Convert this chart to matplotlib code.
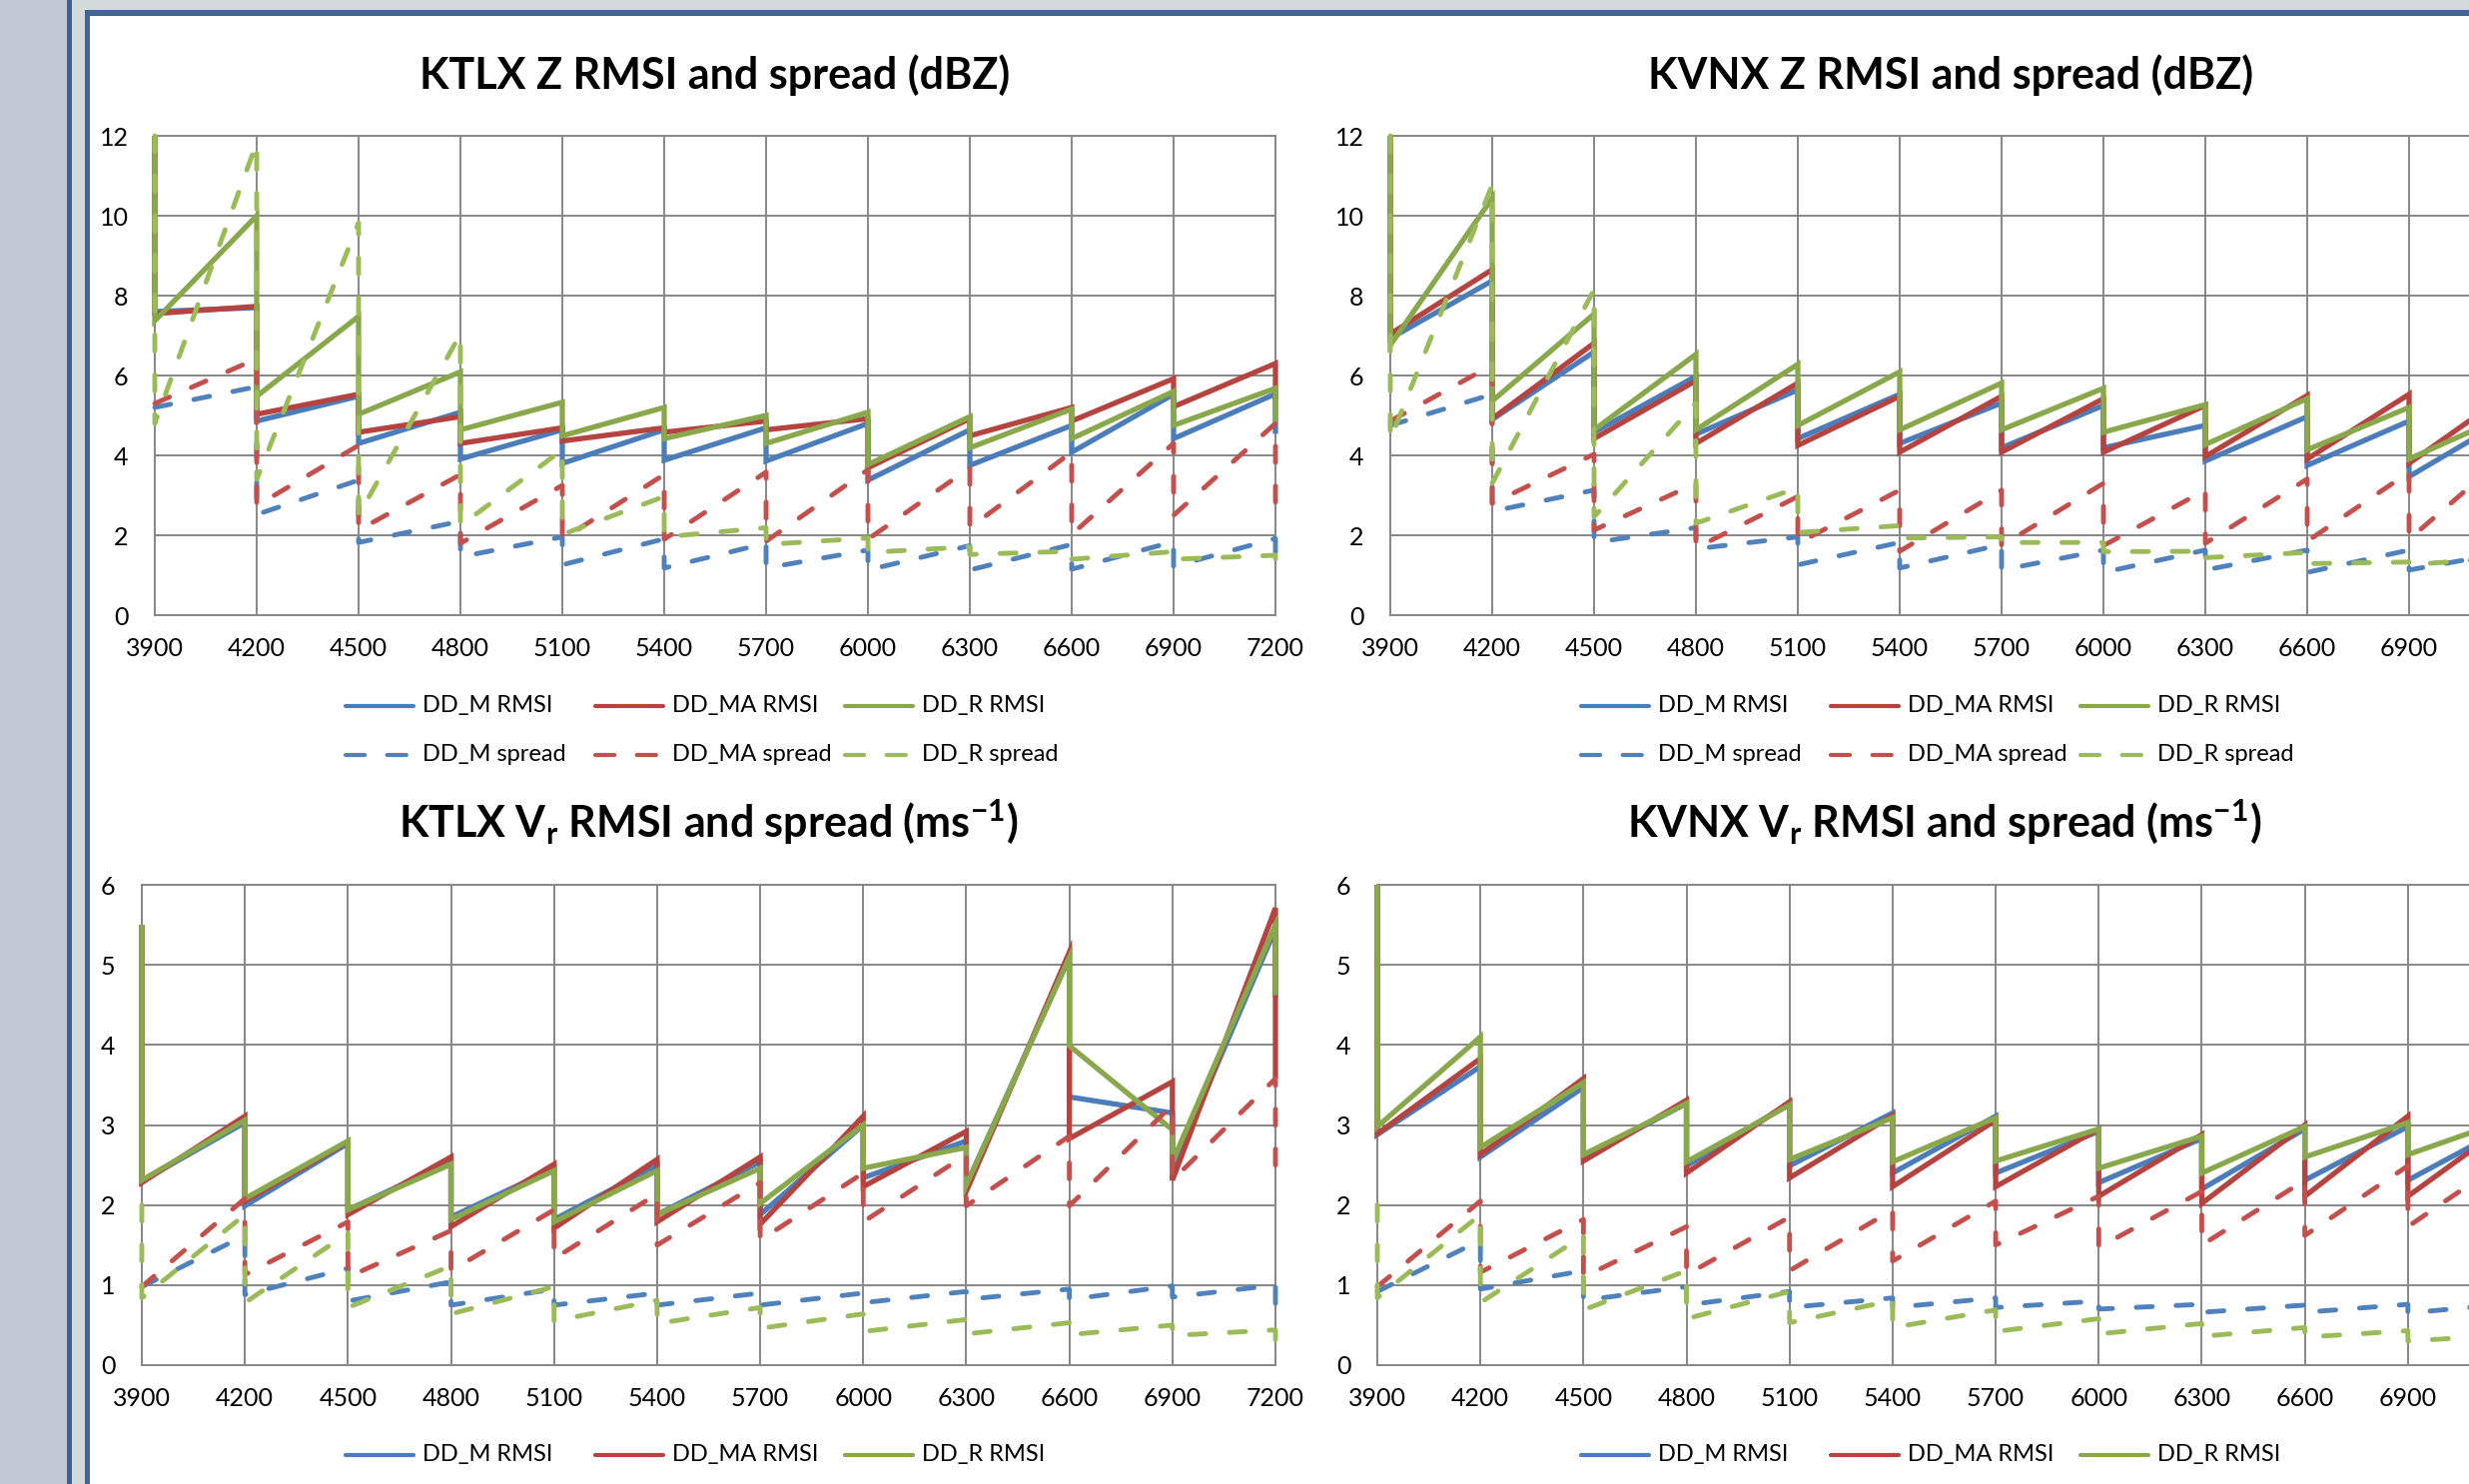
import matplotlib
matplotlib.use("Agg")
import matplotlib.pyplot as plt
import numpy as np
from matplotlib.lines import Line2D
from matplotlib.patches import Rectangle

plt.rcParams["font.family"] = ["Lato", "DejaVu Sans"]
plt.rcParams["mathtext.fontset"] = "custom"
plt.rcParams["mathtext.rm"] = "Lato:bold"
plt.rcParams["mathtext.it"] = "Lato:bold:italic"
plt.rcParams["mathtext.bf"] = "Lato:bold"

# ── Data: forecast (f) and analysis (a) value at each cycle ───────────────────
cycles = [3900, 4200, 4500, 4800, 5100, 5400, 5700, 6000, 6300, 6600, 6900, 7200]

# KTLX Z (dBZ)
tl_m_rmsi_f = [12.0, 7.70, 5.48, 5.08, 4.64, 4.64, 4.69, 4.80, 4.64, 4.75, 5.53, 5.54]
tl_m_rmsi_a = [7.60, 4.86, 4.30, 3.91, 3.80, 3.88, 3.86, 3.38, 3.75, 4.08, 4.42, 4.54]
tl_ma_rmsi_f = [12.0, 7.73, 5.53, 4.97, 4.69, 4.69, 4.86, 4.92, 4.92, 5.20, 5.92, 6.30]
tl_ma_rmsi_a = [7.55, 5.03, 4.58, 4.30, 4.36, 4.58, 4.64, 3.69, 4.49, 4.86, 5.22, 5.40]
tl_r_rmsi_f = [12.0, 10.0, 7.48, 6.09, 5.33, 5.20, 5.00, 5.08, 4.97, 5.16, 5.60, 5.68]
tl_r_rmsi_a = [7.37, 5.48, 5.03, 4.64, 4.49, 4.42, 4.30, 3.77, 4.19, 4.42, 4.75, 4.84]
tl_m_spread_f = [5.20, 5.72, 3.38, 2.35, 1.96, 1.91, 1.80, 1.63, 1.74, 1.77, 1.84, 1.92]
tl_m_spread_a = [5.20, 2.52, 1.82, 1.46, 1.26, 1.18, 1.18, 1.13, 1.13, 1.15, 1.22, 1.30]
tl_ma_spread_f = [5.30, 6.42, 4.25, 3.52, 3.25, 3.52, 3.58, 3.64, 3.69, 4.08, 4.30, 4.80]
tl_ma_spread_a = [5.30, 2.74, 2.13, 1.80, 1.90, 1.90, 1.85, 1.90, 2.19, 2.02, 2.50, 2.50]
tl_r_spread_f = [12.0, 11.83, 9.82, 7.04, 4.14, 2.97, 2.19, 1.93, 1.71, 1.60, 1.59, 1.50]
tl_r_spread_a = [4.80, 3.40, 2.50, 2.24, 2.02, 1.96, 1.77, 1.57, 1.52, 1.40, 1.40, 1.29]

# KVNX Z (dBZ)
tr_m_rmsi_f = [12.0, 8.37, 6.59, 5.98, 5.64, 5.53, 5.31, 5.25, 4.75, 4.97, 4.86, 4.97]
tr_m_rmsi_a = [6.93, 4.90, 4.58, 4.53, 4.42, 4.30, 4.19, 4.19, 3.86, 3.75, 3.47, 3.50]
tr_ma_rmsi_f = [12.0, 8.65, 6.81, 5.87, 5.81, 5.48, 5.48, 5.42, 5.25, 5.50, 5.53, 5.60]
tr_ma_rmsi_a = [7.04, 4.92, 4.42, 4.30, 4.25, 4.08, 4.08, 4.08, 3.97, 3.91, 3.80, 3.90]
tr_r_rmsi_f = [12.0, 10.44, 7.54, 6.53, 6.28, 6.09, 5.81, 5.68, 5.27, 5.42, 5.20, 5.05]
tr_r_rmsi_a = [6.76, 5.36, 4.64, 4.64, 4.75, 4.64, 4.64, 4.58, 4.27, 4.14, 3.91, 4.00]
tr_m_spread_f = [4.75, 5.53, 3.13, 2.19, 1.96, 1.82, 1.77, 1.63, 1.63, 1.63, 1.63, 1.59]
tr_m_spread_a = [4.75, 2.60, 1.82, 1.66, 1.26, 1.18, 1.13, 1.07, 1.13, 1.07, 1.13, 1.10]
tr_ma_spread_f = [4.86, 6.26, 4.03, 3.30, 2.97, 3.13, 3.13, 3.30, 3.13, 3.41, 3.58, 4.10]
tr_ma_spread_a = [4.86, 2.80, 2.13, 1.68, 1.80, 1.60, 1.74, 1.74, 1.80, 1.85, 1.90, 1.90]
tr_r_spread_f = [12.0, 10.77, 8.15, 5.31, 3.19, 2.24, 1.96, 1.82, 1.60, 1.57, 1.33, 1.45]
tr_r_spread_a = [4.40, 3.30, 2.46, 2.30, 2.07, 1.93, 1.82, 1.59, 1.44, 1.29, 1.26, 1.30]

# KTLX Vr (m/s)
bl_m_rmsi_f = [5.50, 3.03, 2.77, 2.54, 2.46, 2.49, 2.54, 3.00, 2.80, 5.09, 3.15, 5.45]
bl_m_rmsi_a = [2.30, 1.99, 1.94, 1.85, 1.82, 1.88, 1.88, 2.34, 2.25, 3.35, 2.45, 4.60]
bl_ma_rmsi_f = [5.50, 3.11, 2.79, 2.60, 2.51, 2.57, 2.60, 3.11, 2.92, 5.16, 3.54, 5.71]
bl_ma_rmsi_a = [2.28, 2.05, 1.88, 1.73, 1.71, 1.79, 1.76, 2.23, 2.17, 2.83, 2.31, 3.58]
bl_r_rmsi_f = [5.50, 3.06, 2.80, 2.51, 2.43, 2.43, 2.46, 3.00, 2.72, 5.09, 2.94, 5.50]
bl_r_rmsi_a = [2.31, 2.08, 1.94, 1.82, 1.79, 1.88, 2.02, 2.46, 2.25, 3.99, 2.54, 4.62]
bl_m_spread_f = [0.98, 1.62, 1.21, 1.04, 0.95, 0.90, 0.90, 0.90, 0.92, 0.95, 0.99, 1.00]
bl_m_spread_a = [0.98, 0.88, 0.80, 0.75, 0.75, 0.75, 0.75, 0.78, 0.82, 0.82, 0.85, 0.77]
bl_ma_spread_f = [0.98, 2.08, 1.79, 1.68, 1.94, 2.14, 2.28, 2.40, 2.63, 2.86, 3.25, 3.58]
bl_ma_spread_a = [0.98, 1.13, 1.10, 1.18, 1.33, 1.50, 1.56, 1.79, 1.99, 1.99, 2.31, 2.33]
bl_r_spread_f = [2.00, 1.88, 1.65, 1.24, 0.98, 0.81, 0.72, 0.64, 0.57, 0.53, 0.50, 0.44]
bl_r_spread_a = [0.84, 0.78, 0.72, 0.64, 0.55, 0.52, 0.46, 0.42, 0.39, 0.38, 0.37, 0.31]

# KVNX Vr (m/s)
br_m_rmsi_f = [6.00, 3.73, 3.47, 3.27, 3.27, 3.15, 3.11, 2.92, 2.83, 2.95, 2.98, 3.00]
br_m_rmsi_a = [2.88, 2.60, 2.59, 2.49, 2.49, 2.40, 2.40, 2.28, 2.20, 2.31, 2.31, 2.30]
br_ma_rmsi_f = [6.00, 3.83, 3.58, 3.31, 3.29, 3.12, 3.06, 2.95, 2.88, 3.00, 3.11, 3.04]
br_ma_rmsi_a = [2.89, 2.63, 2.55, 2.40, 2.34, 2.23, 2.23, 2.11, 2.02, 2.11, 2.11, 2.10]
br_r_rmsi_f = [6.00, 4.10, 3.53, 3.27, 3.25, 3.09, 3.09, 2.95, 2.86, 2.98, 3.03, 3.08]
br_r_rmsi_a = [2.98, 2.72, 2.63, 2.54, 2.57, 2.54, 2.55, 2.46, 2.40, 2.60, 2.63, 2.60]
br_m_spread_f = [0.92, 1.56, 1.18, 0.98, 0.92, 0.84, 0.84, 0.80, 0.76, 0.75, 0.76, 0.77]
br_m_spread_a = [0.92, 0.95, 0.81, 0.75, 0.72, 0.72, 0.72, 0.70, 0.66, 0.66, 0.65, 0.65]
br_ma_spread_f = [0.98, 2.05, 1.82, 1.73, 1.85, 1.94, 2.05, 2.11, 2.17, 2.31, 2.49, 2.61]
br_ma_spread_a = [0.98, 1.16, 1.10, 1.13, 1.18, 1.30, 1.50, 1.47, 1.50, 1.62, 1.73, 1.75]
br_r_spread_f = [2.00, 1.88, 1.62, 1.18, 0.92, 0.81, 0.69, 0.58, 0.52, 0.47, 0.43, 0.38]
br_r_spread_a = [0.84, 0.78, 0.69, 0.58, 0.53, 0.47, 0.42, 0.39, 0.36, 0.35, 0.30, 0.30]

labels = ["DD_M RMSI", "DD_MA RMSI", "DD_R RMSI", "DD_M spread", "DD_MA spread", "DD_R spread"]
colors = ["#4A7DBA", "#B5433F", "#89A74B", "#4F81BD", "#C4504E", "#9BBB59"]

# ── Layout (pixels of the 2472x1486 canvas) ───────────────────────────────────
W, H = 2472, 1486
LW_SOLID = 3.8
LW_DASH = 3.5
DASH = (3.3, 4.9)
LEG_LW = 3.0
LEG_DASH = (4.6, 5.4)
GRID = "#878787"

fig = plt.figure(figsize=(W / 100, H / 100), dpi=100)
fig.patch.set_facecolor("white")


def px_rect(x0, y0, x1, y1, color):
    fig.add_artist(Rectangle((x0 / W, 1 - y1 / H), (x1 - x0) / W, (y1 - y0) / H,
                             transform=fig.transFigure, facecolor=color,
                             edgecolor="none", zorder=0))


# window chrome around the charts
px_rect(0, 0, 67, H, "#C1C8D4")
px_rect(67, 0, 72, H, "#3E6191")
px_rect(72, 0, W, 10, "#D2DADA")
px_rect(72, 0, 85, H, "#D2DADA")
px_rect(85, 10, W, 16, "#41659A")
px_rect(85, 10, 90, H, "#41659A")


def saw(f, a):
    xs = np.repeat(cycles, 2)
    ys = np.column_stack([f, a]).ravel()
    return xs, ys


def style(i):
    if i < 3:
        return dict(color=colors[i], lw=LW_SOLID, solid_capstyle="butt",
                    solid_joinstyle="miter")
    return dict(color=colors[i], lw=LW_DASH, dashes=DASH, dash_capstyle="round")


def legend_style(i):
    if i < 3:
        return dict(color=colors[i], lw=LEG_LW, solid_capstyle="round")
    return dict(color=colors[i], lw=LEG_LW, dashes=LEG_DASH, dash_capstyle="round")


def legend_px(x0, y0):
    # Excel-style legend: 3 equal columns, 2 rows
    for k, lab in enumerate(labels):
        row, col = divmod(k, 3)
        x = x0 + col * 250
        y = 1 - (y0 + row * 49) / H
        fig.add_artist(Line2D([(x + 2) / W, (x + 70) / W], [y, y],
                              transform=fig.transFigure, **legend_style(k)))
        fig.text((x + 79) / W, y, lab, fontsize=17, va="center", ha="left")


def panel(box, title, ymax, ystep, series, leg_xy):
    l, t, r, b = box
    ax = fig.add_axes([l / W, 1 - b / H, (r - l) / W, (b - t) / H])
    ax.set_facecolor("none")
    for i, (f, a) in enumerate(series):
        xs, ys = saw(f, a)
        ax.plot(xs, ys, clip_on=False, zorder=3 + i, **style(i))
    ax.set_xlim(cycles[0], cycles[-1])
    ax.set_ylim(0, ymax)
    ax.set_xticks(cycles)
    ax.set_yticks(np.arange(0, ymax + 0.01, ystep))
    ax.grid(True, color=GRID, lw=1.4)
    ax.set_axisbelow(True)
    for sp in ax.spines.values():
        sp.set_color(GRID)
        sp.set_linewidth(1.4)
    ax.tick_params(length=0, labelsize=18, colors="black")
    ax.tick_params(axis="x", pad=16)
    ax.tick_params(axis="y", pad=19)
    ax.set_title(title, fontsize=31, fontweight="bold", pad=34)
    legend_px(*leg_xy)
    return ax


panel((155, 136, 1277, 616), "KTLX Z RMSI and spread (dBZ)", 12, 2,
      [(tl_m_rmsi_f, tl_m_rmsi_a), (tl_ma_rmsi_f, tl_ma_rmsi_a), (tl_r_rmsi_f, tl_r_rmsi_a),
       (tl_m_spread_f, tl_m_spread_a), (tl_ma_spread_f, tl_ma_spread_a),
       (tl_r_spread_f, tl_r_spread_a)], (344, 707))
panel((1392, 136, 2514, 616), "KVNX Z RMSI and spread (dBZ)", 12, 2,
      [(tr_m_rmsi_f, tr_m_rmsi_a), (tr_ma_rmsi_f, tr_ma_rmsi_a), (tr_r_rmsi_f, tr_r_rmsi_a),
       (tr_m_spread_f, tr_m_spread_a), (tr_ma_spread_f, tr_ma_spread_a),
       (tr_r_spread_f, tr_r_spread_a)], (1581, 707))
panel((142, 886, 1277, 1367), r"KTLX V$_\mathrm{r}$ RMSI and spread (ms$^\mathrm{-1}$)", 6, 1,
      [(bl_m_rmsi_f, bl_m_rmsi_a), (bl_ma_rmsi_f, bl_ma_rmsi_a), (bl_r_rmsi_f, bl_r_rmsi_a),
       (bl_m_spread_f, bl_m_spread_a), (bl_ma_spread_f, bl_ma_spread_a),
       (bl_r_spread_f, bl_r_spread_a)], (344, 1457))
panel((1379, 886, 2514, 1367), r"KVNX V$_\mathrm{r}$ RMSI and spread (ms$^\mathrm{-1}$)", 6, 1,
      [(br_m_rmsi_f, br_m_rmsi_a), (br_ma_rmsi_f, br_ma_rmsi_a), (br_r_rmsi_f, br_r_rmsi_a),
       (br_m_spread_f, br_m_spread_a), (br_ma_spread_f, br_ma_spread_a),
       (br_r_spread_f, br_r_spread_a)], (1581, 1457))

fig.savefig("out.png", dpi=100, facecolor="white")
